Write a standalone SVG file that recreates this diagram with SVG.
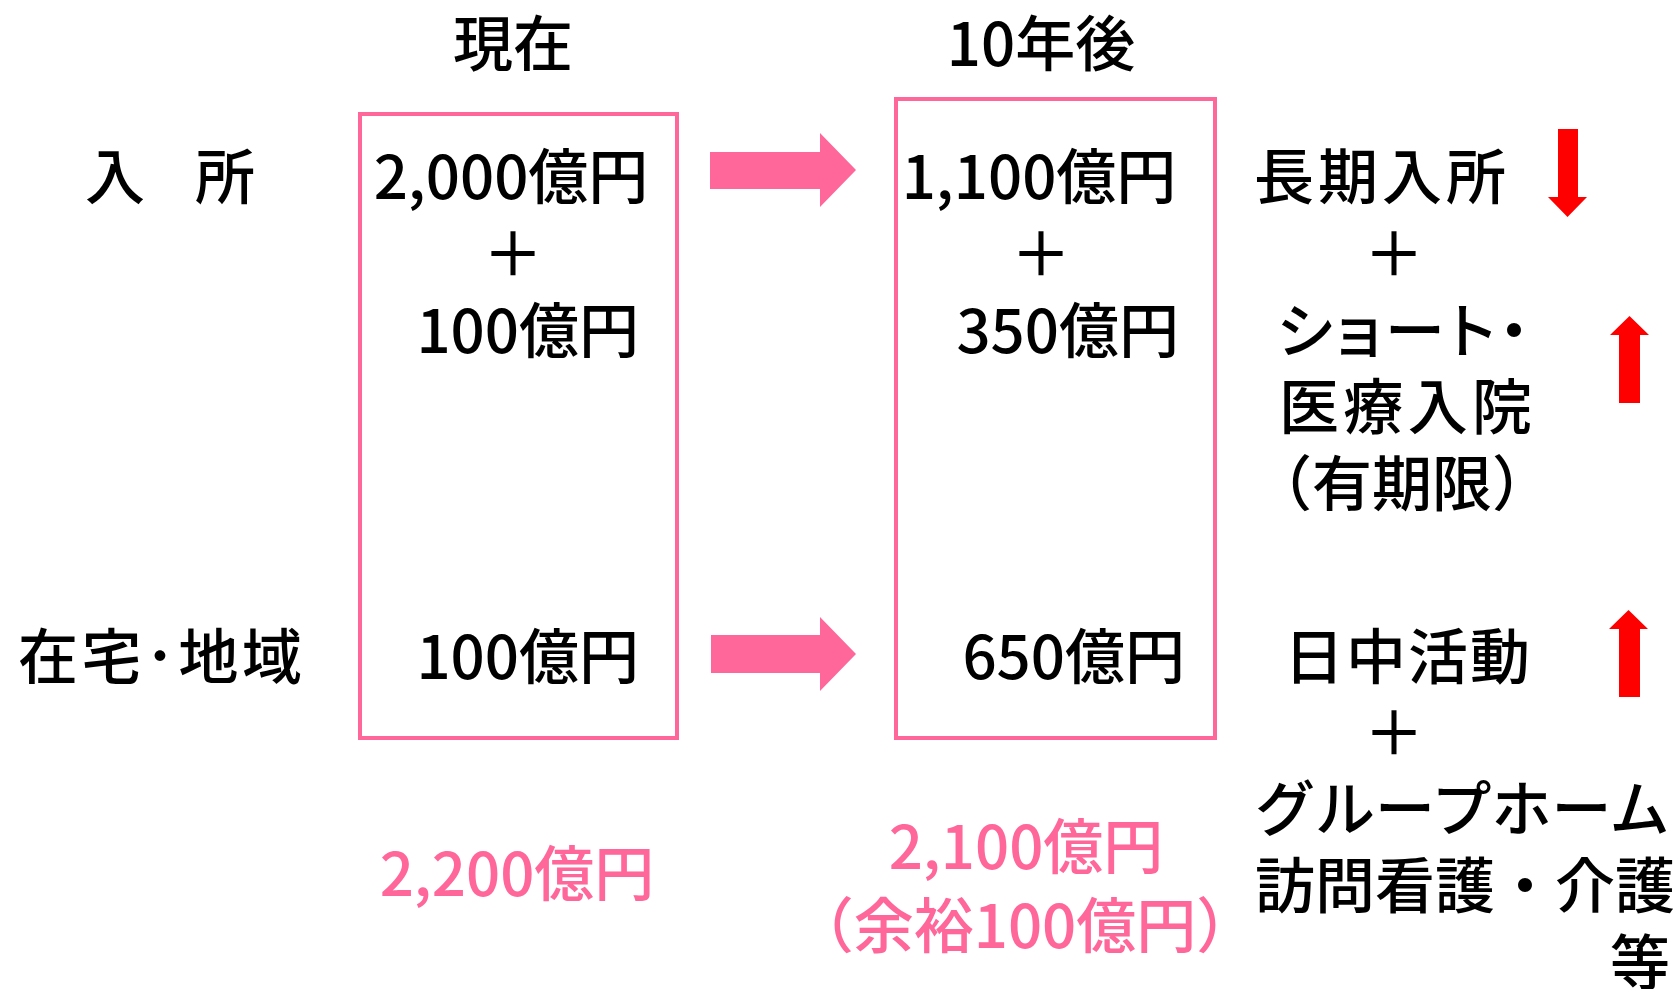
<svg xmlns="http://www.w3.org/2000/svg" width="1675" height="989" viewBox="0 0 1675 989">
<style>
text{font-family:"Noto Sans CJK JP","Noto Sans",sans-serif;font-size:60px;font-weight:500;fill:#000}
.pk{fill:#FF6699}
.box{fill:none;stroke:#FF6699;stroke-width:4}
.arr{fill:#FF6699}
.red{fill:#FF0000}
.m{text-anchor:middle}
.e{text-anchor:end}
.p{font-feature-settings:"palt"}
</style>
<rect width="1675" height="989" fill="#fff"/>
<g id="headers">
<text class="m" x="513" y="66">現在</text>
<text class="m" x="1041" y="66">10年後</text>
</g>
<g id="row-labels">
<text x="85" y="199" textLength="170" lengthAdjust="spacing">入　所</text>
<text x="18" y="679" textLength="284" lengthAdjust="spacing">在宅･地域</text>
</g>
<g id="box-current">
<rect class="box" x="360" y="114" width="317" height="624"/>
<text class="m" x="511" y="199">2,000億円</text>
<text class="m" x="513" y="276">＋</text>
<text class="e" x="639" y="353">100億円</text>
<text class="e" x="639" y="679">100億円</text>
</g>
<g id="box-future">
<rect class="box" x="896" y="99" width="319" height="639"/>
<text class="m" x="1039" y="199">1,100億円</text>
<text class="m" x="1041" y="276">＋</text>
<text class="e" x="1179" y="353">350億円</text>
<text class="e" x="1185" y="679">650億円</text>
</g>
<g id="totals">
<text class="pk m" x="517" y="896">2,200億円</text>
<text class="pk m" x="1026" y="869">2,100億円</text>
<text class="pk m" x="1025" y="948">（余裕100億円）</text>
</g>
<g id="breakdown-upper">
<text x="1254" y="199" textLength="252" lengthAdjust="spacing">長期入所</text>
<text class="m" x="1394" y="276">＋</text>
<text class="p" x="1277" y="353" textLength="252" lengthAdjust="spacing">ショート・</text>
<text x="1279" y="429" textLength="253" lengthAdjust="spacing">医療入院</text>
<text class="m" x="1402" y="506">（有期限）</text>
</g>
<g id="breakdown-lower">
<text x="1284" y="679" textLength="246" lengthAdjust="spacing">日中活動</text>
<text class="m" x="1394" y="755">＋</text>
<text x="1255" y="831">グループホーム</text>
<text x="1255" y="908">訪問看護・介護</text>
<text class="e" x="1670" y="985">等</text>
</g>
<g id="trend-arrows">
<polygon class="red" points="1558,129 1578,129 1578,197 1587,197 1567.5,217 1548,197 1558,197"/>
<polygon class="red" points="1619,403 1640,403 1640,335 1649,335 1629.5,316 1610,335 1619,335"/>
<polygon class="red" points="1619,697 1640,697 1640,629 1648,629 1628.5,610 1609,629 1619,629"/>
</g>
<g id="connectors">
<polygon class="arr" points="710,152 820,152 820,133 856,170 820,207 820,189 710,189"/>
<polygon class="arr" points="711,635 820,635 820,617 856,654 820,691 820,673 711,673"/>
</g>
</svg>
